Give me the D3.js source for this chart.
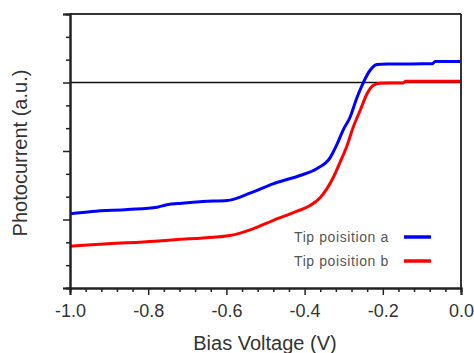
<!DOCTYPE html>
<html>
<head>
<meta charset="utf-8">
<script src="https://cdn.jsdelivr.net/npm/d3@7"></script>
<style>
  html, body { margin: 0; padding: 0; background: #fff; }
  svg { display: block; }
  text { font-family: "Liberation Sans", Arial, sans-serif; }
</style>
</head>
<body>
<svg id="chart" width="474" height="353"></svg>
<script>
// ---- data ----
const xTicks = [-1.0, -0.8, -0.6, -0.4, -0.2, 0.0];
const xTickLabels = ["-1.0", "-0.8", "-0.6", "-0.4", "-0.2", "0.0"];
const yMajorTicks = [-3, -2, -1, 0, 1];

const blueV = [-1.0, -0.944, -0.852, -0.777, -0.752, -0.714, -0.660, -0.598, -0.540, -0.481, -0.412, -0.368, -0.335, -0.317, -0.302, -0.284, -0.266, -0.251, -0.233, -0.215, -0.189, -0.074, -0.066, 0.0];
const blueI = [-1.917, -1.883, -1.854, -1.820, -1.785, -1.762, -1.737, -1.723, -1.616, -1.479, -1.358, -1.255, -1.10, -0.90, -0.701, -0.511, -0.219, -0.015, 0.175, 0.263, 0.270, 0.273, 0.307, 0.307];

const redV = [-1.0, -0.903, -0.783, -0.726, -0.660, -0.591, -0.532, -0.481, -0.419, -0.386, -0.361, -0.327, -0.309, -0.292, -0.276, -0.258, -0.240, -0.225, -0.207, -0.148, -0.141, 0.0];
const redI = [-2.39, -2.355, -2.317, -2.292, -2.27, -2.234, -2.136, -2.015, -1.879, -1.796, -1.686, -1.39, -1.16, -0.93, -0.657, -0.409, -0.161, -0.044, -0.01, -0.007, 0.02, 0.02];

const seriesNames = ["Tip poisition a", "Tip poisition b"];
const seriesColors = ["#0000ff", "#ff0000"];

// ---- layout ----
const W = 474, H = 353;
const m = { left: 70, right: 13, top: 14, bottom: 65 };
const svg = d3.select("#chart");

const x = d3.scaleLinear().domain([-1, 0]).range([m.left, W - m.right]);
const y = d3.scaleLinear().domain([-3, 1]).range([H - m.bottom, m.top]);

svg.append("clipPath").attr("id", "clip").append("rect")
  .attr("x", m.left).attr("y", m.top)
  .attr("width", W - m.left - m.right).attr("height", H - m.top - m.bottom);

// zero line
svg.append("line")
  .attr("x1", x(-1)).attr("x2", x(0))
  .attr("y1", y(0)).attr("y2", y(0))
  .attr("stroke", "#111").attr("stroke-width", 1.5);

// curves
const line = d3.line().x(d => x(d[0])).y(d => y(d[1])).curve(d3.curveMonotoneX);
const blueData = blueV.map((v, i) => [v, blueI[i]]);
const redData = redV.map((v, i) => [v, redI[i]]);
const g = svg.append("g").attr("clip-path", "url(#clip)");
g.append("path").datum(blueData).attr("d", line)
  .attr("fill", "none").attr("stroke", seriesColors[0]).attr("stroke-width", 3);
g.append("path").datum(redData).attr("d", line)
  .attr("fill", "none").attr("stroke", seriesColors[1]).attr("stroke-width", 3);

// frame (top and right)
svg.append("line").attr("x1", x(-1)).attr("x2", x(0)).attr("y1", y(1)).attr("y2", y(1))
  .attr("stroke", "#333").attr("stroke-width", 2);
svg.append("line").attr("x1", x(0)).attr("x2", x(0)).attr("y1", y(1)).attr("y2", y(-3))
  .attr("stroke", "#333").attr("stroke-width", 2);

// x axis: major + minor ticks
const xMinor = d3.range(-1, 0.0001, 0.04).filter(v => xTicks.every(t => Math.abs(t - v) > 1e-6));
const xAxisMinor = d3.axisBottom(x).tickValues(xMinor).tickSize(4).tickFormat("");
const xAxis = d3.axisBottom(x).tickValues(xTicks).tickSize(7).tickPadding(9)
  .tickFormat((d, i) => xTickLabels[i]);
const gxm = svg.append("g").attr("transform", `translate(0,${y(-3)})`).call(xAxisMinor);
const gx = svg.append("g").attr("transform", `translate(0,${y(-3)})`).call(xAxis);
[gx, gxm].forEach(a => {
  a.select(".domain").attr("stroke", "#222").attr("stroke-width", 2);
  a.selectAll(".tick line").attr("stroke", "#222").attr("stroke-width", 1.5);
});
gx.selectAll(".tick text").attr("font-size", 18).attr("fill", "#333")
  .attr("font-family", "'Liberation Sans', Arial, sans-serif");

// y axis: major + minor ticks, no labels
const yMinor = d3.range(-3, 1.0001, 1 / 3).filter(v => yMajorTicks.every(t => Math.abs(t - v) > 1e-6));
const yAxisMinor = d3.axisLeft(y).tickValues(yMinor).tickSize(4).tickFormat("");
const yAxis = d3.axisLeft(y).tickValues(yMajorTicks).tickSize(7).tickFormat("");
const gym = svg.append("g").attr("transform", `translate(${x(-1)},0)`).call(yAxisMinor);
const gy = svg.append("g").attr("transform", `translate(${x(-1)},0)`).call(yAxis);
[gy, gym].forEach(a => {
  a.select(".domain").attr("stroke", "#222").attr("stroke-width", 2);
  a.selectAll(".tick line").attr("stroke", "#222").attr("stroke-width", 1.5);
});

// axis titles
svg.append("text").attr("x", 265).attr("y", 349.5)
  .attr("text-anchor", "middle").attr("font-size", 20).attr("fill", "#333")
  .text("Bias Voltage (V)");
svg.append("text")
  .attr("transform", `translate(27,153) rotate(-90)`)
  .attr("text-anchor", "middle").attr("font-size", 20).attr("fill", "#333")
  .text("Photocurrent (a.u.)");

// legend
const legY = [237, 261];
seriesNames.forEach((name, i) => {
  svg.append("text").attr("x", 294).attr("y", legY[i] + 5)
    .attr("font-size", 14).attr("letter-spacing", 0.6).attr("fill", "#555")
    .text(name);
  svg.append("line").attr("x1", 404).attr("x2", 431)
    .attr("y1", legY[i]).attr("y2", legY[i])
    .attr("stroke", seriesColors[i]).attr("stroke-width", 3.5);
});
</script>
</body>
</html>
